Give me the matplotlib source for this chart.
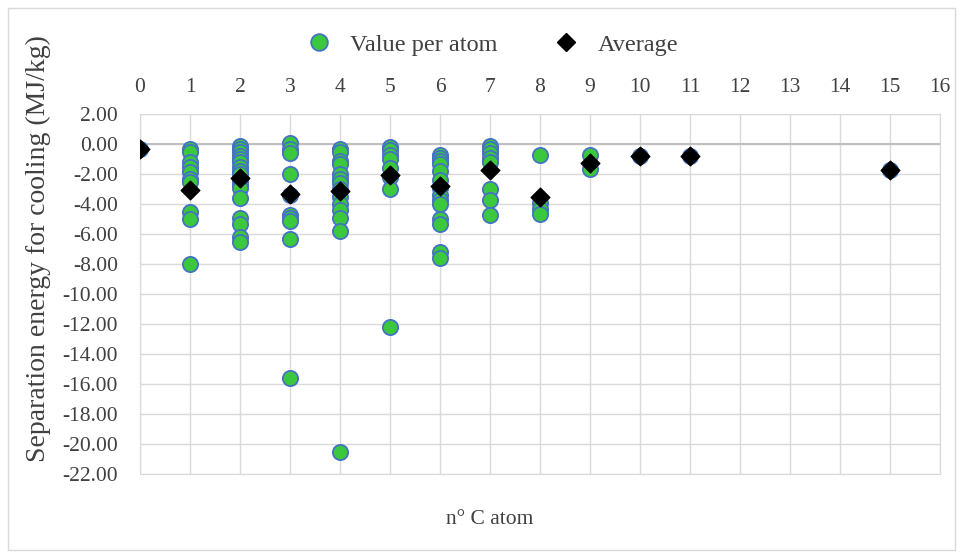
import numpy as np
import matplotlib
matplotlib.use('Agg')
import matplotlib.pyplot as plt
from matplotlib.lines import Line2D
from matplotlib.patches import Rectangle

# number of C atoms and separation energies (MJ/kg)
carbon_counts = [0, 1, 2, 3, 4, 5, 6, 7, 8, 9, 10, 11, 15]
values_per_atom = [
    [-0.3],
    [-0.35, -0.5, -1.2, -1.5, -1.85, -2.3, -2.5, -4.55, -5.0, -8.0],
    [-0.15, -0.3, -0.5, -0.8, -1.0, -1.2, -1.5, -1.8, -2.0, -2.5, -2.7, -2.9,
     -3.6, -4.9, -5.3, -6.2, -6.5],
    [0.05, -0.3, -0.6, -2.0, -3.4, -4.75, -4.9, -5.1, -6.3, -15.6],
    [-0.3, -0.5, -1.1, -1.3, -2.0, -2.3, -2.6, -3.0, -3.5, -4.0, -4.4, -4.9,
     -5.8, -20.5],
    [-0.2, -0.4, -0.7, -1.0, -1.6, -2.2, -3.0, -12.2],
    [-0.7, -0.9, -1.1, -1.3, -1.8, -2.4, -2.9, -3.4, -3.7, -4.0, -5.0, -5.3,
     -7.2, -7.6],
    [-0.15, -0.35, -0.6, -0.9, -1.2, -3.0, -3.7, -4.7],
    [-0.75, -3.9, -4.3, -4.65],
    [-0.75, -1.65],
    [-0.8],
    [-0.8],
    [-1.7],
]
average_values = [-0.3, -3.05, -2.25, -3.35, -3.1, -2.05, -2.8, -1.75, -3.55,
                  -1.25, -0.8, -0.8, -1.7]

x_ticks = list(range(0, 17))
y_ticks = np.arange(-22, 2.01, 2)

plt.rcParams['font.family'] = ['Liberation Serif', 'DejaVu Serif']
plt.rcParams['axes.unicode_minus'] = False


def main():
    fig = plt.figure(figsize=(9.63, 5.58), dpi=100)
    # light frame around the chart
    fig.patches.append(Rectangle((0.008, 0.014), 0.984, 0.972, transform=fig.transFigure,
                                 fill=False, edgecolor='#D9D9D9', lw=1))

    ax = fig.add_axes([0.1454, 0.1505, 0.8307, 0.6452])

    xs = []
    ys = []
    for c, vals in zip(carbon_counts, values_per_atom):
        xs += [c] * len(vals)
        ys += vals

    ax.axhline(0, color='#BFBFBF', lw=1.5, zorder=1)
    ax.scatter(xs, ys, s=120, c='#3CC83C', edgecolors='#4472C4', linewidths=1.3, zorder=3)
    ax.scatter(carbon_counts, average_values, s=90, marker='D', c='black', zorder=4)

    ax.set_xlim(0, 16)
    ax.set_ylim(-22, 2)
    ax.set_xticks(x_ticks)
    ax.set_yticks(y_ticks)
    ax.set_yticklabels(['{:.2f}'.format(v) for v in y_ticks])
    ax.xaxis.tick_top()
    ax.tick_params(axis='x', length=0, pad=12, labelsize=15.5, colors='#404040')
    ax.tick_params(axis='y', length=0, pad=16, labelsize=15.5, colors='#404040')
    ax.grid(True, color='#D9D9D9', lw=1)
    ax.set_axisbelow(True)
    for s in ax.spines.values():
        s.set_color('#D9D9D9')

    fig.text(38 / 963, 1 - 249 / 558, 'Separation energy for cooling (MJ/kg)', rotation=90,
             ha='center', va='center', fontsize=20, color='#404040')
    fig.text(490 / 963, 1 - 519 / 558, 'n° C atom', ha='center', va='center',
             fontsize=15.5, color='#404040')

    handles = [
        Line2D([], [], marker='o', ls='', markersize=12, markerfacecolor='#3CC83C',
               markeredgecolor='#4472C4', markeredgewidth=1.3, label='Value per atom'),
        Line2D([], [], marker='D', ls='', markersize=9.5, color='black', label='Average'),
    ]
    fig.legend(handles=handles, loc='center', bbox_to_anchor=(0.505, 0.920), ncol=2,
               frameon=False, fontsize=17.5, handletextpad=0.3, columnspacing=1.8,
               labelcolor='#404040')

    fig.savefig('out.png', dpi=100, facecolor='white')


if __name__ == '__main__':
    main()
